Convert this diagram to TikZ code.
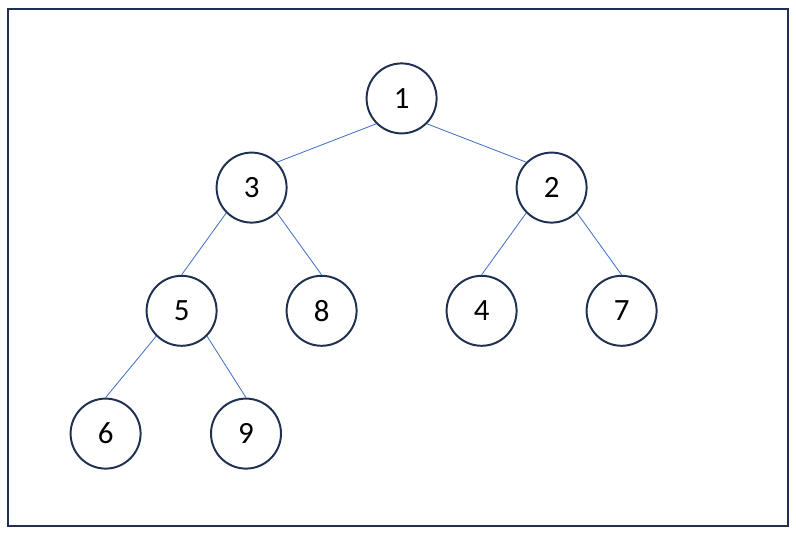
\documentclass[tikz,border=0pt]{standalone}
\usepackage{fontspec}
\setmainfont{Carlito}
\usepackage{tikz}
\usetikzlibrary{positioning}

\definecolor{navy}{RGB}{31,48,80}
\definecolor{linkblue}{RGB}{68,114,196}

\begin{document}
\begin{tikzpicture}[every node/.style={circle, draw=navy, line width=1.4pt, minimum size=1.75cm, inner sep=0pt, font=\fontsize{22}{26}\selectfont},
							on grid, auto,
							link/.style={draw=linkblue, line width=0.6pt}]

			\useasboundingbox (0,0) rectangle (19.9,-13.4);
			\draw[navy, line width=1.4pt] (0.2,-0.23) rectangle (19.7,-13.14);

			\node (n1) at (10.04,-2.46) {1};

			\node (n3) [below left=2.23cm and 3.75cm of n1] {3};

			\node (n2) [below right=2.23cm and 3.75cm of n1] {2};

			\node (n5) [below left=3.08cm and 1.75cm of n3] {5};

			\node (n8) [below right=3.08cm and 1.75cm of n3] {8};

			\node (n4) [below left=3.08cm and 1.75cm of n2] {4};

			\node (n7) [below right=3.08cm and 1.75cm of n2] {7};

			\node (n6) [below left=3.07cm and 1.9cm of n5] {6};

			\node (n9) [below right=3.07cm and 1.61cm of n5] {9};

			\draw[link] (n1.south west) -- (n3.north east);
			\draw[link] (n1.south east) -- (n2.north west);
			\draw[link] (n3.south west) -- (n5.north);
			\draw[link] (n3.south east) -- (n8.north);
			\draw[link] (n2.south west) -- (n4.north);
			\draw[link] (n2.south east) -- (n7.north);
			\draw[link] (n5.south west) -- (n6.north);
			\draw[link] (n5.south east) -- (n9.north);

		\end{tikzpicture}
\end{document}
